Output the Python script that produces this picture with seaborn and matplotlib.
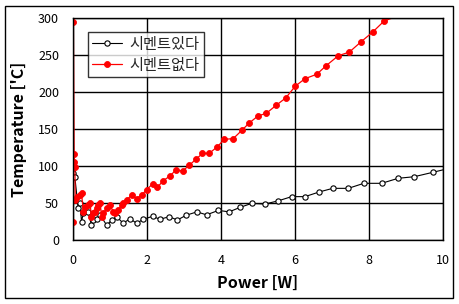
import matplotlib
matplotlib.use("Agg")
import matplotlib.pyplot as plt
import seaborn as sns
import pandas as pd
from matplotlib.patches import Rectangle

# ---- data ----
black_label = "시멘트있다"
red_label = "시멘트없다"

black_x = [0.00, 0.02, 0.05, 0.14, 0.19, 0.23, 0.28, 0.41, 0.50, 0.55, 0.64, 0.73,
           0.91, 1.05, 1.18, 1.36, 1.54, 1.72, 1.90, 2.15, 2.35, 2.60, 2.82, 3.06,
           3.35, 3.61, 3.93, 4.22, 4.51, 4.83, 5.19, 5.55, 5.91, 6.27, 6.66, 7.02,
           7.44, 7.86, 8.34, 8.79, 9.22, 9.72, 10.10]
black_y = [90, 85.5, 85, 43, 49.5, 25, 36, 38, 20, 27, 29, 34,
           20, 27, 31.5, 22.5, 29, 22.5, 28, 32, 28, 31.5, 27, 33.5,
           38, 34, 40, 38, 44, 49.5, 48.6, 53, 58.6, 58.6, 65, 69.8,
           69.8, 76.6, 76.6, 83.4, 85.5, 91.4, 96]

red_x = [0.00, 0.01, 0.03, 0.04, 0.05, 0.06, 0.10, 0.19, 0.23, 0.28, 0.32,
         0.41, 0.46, 0.50, 0.55, 0.59, 0.64, 0.68, 0.73, 0.78, 0.82, 0.91, 1.00,
         1.09, 1.14, 1.22, 1.32, 1.36, 1.45, 1.59, 1.72, 1.86, 1.99, 2.15, 2.28,
         2.44, 2.62, 2.78, 2.96, 3.14, 3.32, 3.50, 3.68, 3.90, 4.09, 4.33, 4.56,
         4.76, 5.01, 5.22, 5.49, 5.75, 6.01, 6.27, 6.59, 6.84, 7.17, 7.47, 7.78,
         8.10, 8.41, 8.90]
red_y = [25, 295, 116, 106, 99, 54, 58.6, 61, 63, 38, 45,
         47, 49.5, 31.5, 36, 38, 43, 47, 49.5, 31.5, 36, 43, 47,
         38, 36, 40.5, 47, 49.5, 54, 61, 56, 61, 68, 75.7, 71.2,
         80.2, 86.5, 94.6, 93.2, 100.9, 109, 117, 117, 126, 136, 137, 148,
         158, 168, 171, 182, 192, 208, 218, 224, 235.5, 249, 254, 267.6,
         281, 296, 305]

x_ticks = [0, 2, 4, 6, 8, 10]
y_ticks = [0, 50, 100, 150, 200, 250, 300]
x_title = "Power [W]"
y_title = "Temperature ['C]"

# ---- style ----
sns.set_theme(style="white")
plt.rcParams["font.family"] = ["Noto Sans CJK KR", "DejaVu Sans"]

fig = plt.figure(figsize=(4.6, 3.04), dpi=100)
ax = fig.add_axes([73/460, 1 - 240/304, 370/460, 222/304])

df_b = pd.DataFrame({"x": black_x, "y": black_y})
df_r = pd.DataFrame({"x": red_x, "y": red_y})

sns.lineplot(data=df_b, x="x", y="y", sort=False, estimator=None, ax=ax,
             color="black", linewidth=0.8, marker="o", markersize=3.8,
             markerfacecolor="white", markeredgecolor="black", markeredgewidth=0.8,
             label=black_label)
sns.lineplot(data=df_r, x="x", y="y", sort=False, estimator=None, ax=ax,
             color="#ff0000", linewidth=0.9, marker="o", markersize=4.3,
             markerfacecolor="#ff0000", markeredgecolor="#ff0000", markeredgewidth=0.6,
             label=red_label)

ax.set_xlim(0, 10)
ax.set_ylim(0, 300)
ax.set_xticks(x_ticks)
ax.set_yticks(y_ticks)
ax.set_xticklabels([str(t) for t in x_ticks])
ax.set_yticklabels([str(t) for t in y_ticks])
ax.grid(True, color="black", linewidth=1.0)
ax.set_axisbelow(True)
for s in ax.spines.values():
    s.set_visible(True)
    s.set_color("black")
    s.set_linewidth(1.0)
ax.tick_params(axis="both", length=0, labelsize=9, pad=10, colors="black")

ax.set_xlabel(x_title, fontsize=11.5, fontweight="bold", labelpad=6, color="black")
ax.set_ylabel(y_title, fontsize=11.5, fontweight="bold", labelpad=8, color="black")

leg = ax.legend(loc="upper left", bbox_to_anchor=(0.04, 0.937), borderaxespad=0,
                frameon=True, fancybox=False, fontsize=11, handlelength=2.0,
                handletextpad=0.5, borderpad=0.25, labelspacing=0.25)
leg.get_frame().set_edgecolor("black")
leg.get_frame().set_linewidth(1.0)

# outer chart border
fig.patches.append(Rectangle((5/460, 6/304), 448/460, 292/304, transform=fig.transFigure,
                             fill=False, edgecolor="black", linewidth=1.0))

fig.savefig("out.png", dpi=100)
